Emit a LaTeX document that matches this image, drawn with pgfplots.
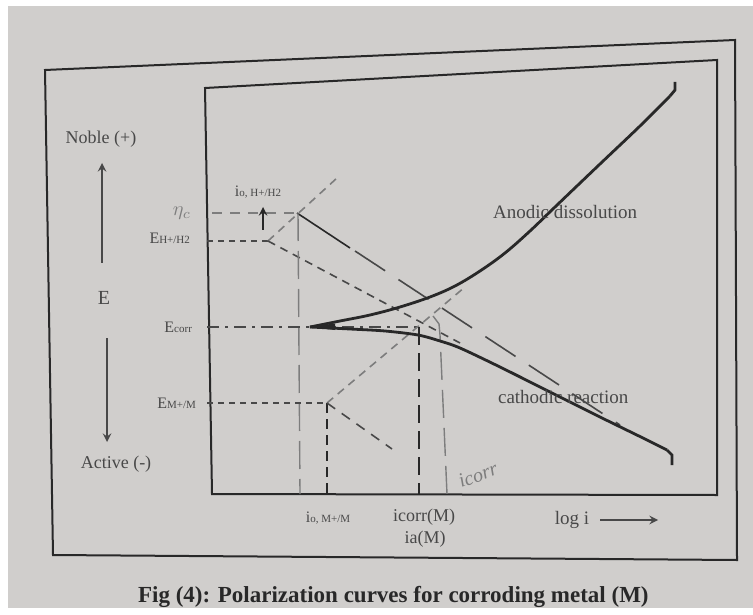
\documentclass[border=0pt]{standalone}
\usepackage{pgfplots}
\pgfplotsset{compat=1.18}
\usepackage{fontspec}
\setmainfont{Liberation Serif}
\definecolor{page}{RGB}{208,206,204}
\definecolor{ink}{RGB}{40,40,40}
\definecolor{prt}{RGB}{72,72,72}
\definecolor{pencil}{RGB}{125,125,125}
\newcommand{\sm}[1]{{\fontsize{5.5}{6}\selectfont #1}}

\begin{document}
\begin{tikzpicture}
\begin{axis}[
    x=0.5pt, y=0.5pt,
    xmin=0, xmax=753, ymin=0, ymax=608, y dir=reverse,
    hide axis, clip=false,
]
% paper
\addplot[draw=none, fill=white] coordinates {(0,0) (753,0) (753,608) (0,608)} --cycle;
\addplot[draw=none, fill=page] coordinates {(8,6) (753,6) (753,608) (8,608)} --cycle;

% frames
\addplot[ink, line width=1pt] coordinates {(45,70) (735,40) (737,560) (53,555)} --cycle;
\addplot[ink, line width=1pt] coordinates {(205,88) (717,60) (717,495) (212,494)} --cycle;

% hydrogen reaction
\addplot[prt, line width=0.8pt, dash pattern=on 3pt off 2.5pt] coordinates {(207,241) (268,241)};
\addplot[pencil, line width=0.8pt, dash pattern=on 5pt off 4pt] coordinates {(212,213) (297,213)};
\addplot[ink, line width=0.9pt, -stealth] coordinates {(263,230) (263,207)};
\addplot[pencil, line width=0.8pt, dash pattern=on 4pt off 3pt] coordinates {(268,241) (337,178)};
\addplot[prt, line width=0.8pt, dash pattern=on 4pt off 3pt] coordinates {(268,241) (460,343)};
\addplot[ink, line width=0.8pt] coordinates {(297,213) (350,248)};
\addplot[prt, line width=0.8pt, dash pattern=on 18pt off 8pt] coordinates {(355,251) (620,425)};
\addplot[pencil, line width=0.7pt, dash pattern=on 14pt off 5pt] coordinates {(298,213) (300,494)};

% metal reaction
\addplot[prt, line width=0.8pt, dash pattern=on 6pt off 3pt on 1.5pt off 3pt] coordinates {(207,327) (418,327)};
\addplot[prt, line width=0.8pt, dash pattern=on 3pt off 2.5pt] coordinates {(207,403) (327,403)};
\addplot[ink, line width=1.1pt, dash pattern=on 5pt off 3pt] coordinates {(327,403) (327,494)};
\addplot[pencil, line width=0.8pt, dash pattern=on 4pt off 3pt] coordinates {(327,403) (465,287)};
\addplot[prt, line width=0.8pt, dash pattern=on 5pt off 4pt] coordinates {(327,403) (392,449)};
\addplot[ink, line width=1.1pt, dash pattern=on 9pt off 4pt] coordinates {(419,327) (419,494)};
\addplot[pencil, line width=0.7pt, dash pattern=on 14pt off 5pt] coordinates {(433,316) (439,324) (440,335) (447,494)};

% polarization curves
\addplot[ink, line width=1.4pt, smooth, tension=0.6] coordinates {
    (310,327) (340,321) (370,315) (400,307) (430,297) (455,286) (480,271)
    (505,253) (530,231) (555,207) (600,164) (640,126) (670,96)};
\addplot[ink, line width=1.4pt] coordinates {(670,96) (675,90) (675,82)};
\addplot[ink, line width=1.4pt, smooth, tension=0.5] coordinates {
    (310,327) (350,329) (385,331) (418,335) (440,341) (460,348) (500,367)
    (550,392) (600,417) (645,439) (667,450)};
\addplot[ink, line width=1.4pt] coordinates {(667,450) (672,455) (672,465)};
\addplot[draw=none, fill=ink] coordinates {(308,327) (335,323.5) (335,330)} --cycle;

% left side
\node[prt, font=\fontsize{9}{10}\selectfont] at (axis cs:101,139) {Noble (+)};
\addplot[prt, line width=0.9pt, -stealth] coordinates {(102,263) (102,163)};
\node[prt, font=\fontsize{10}{11}\selectfont] at (axis cs:104,298) {E};
\addplot[prt, line width=0.9pt, -stealth] coordinates {(107,338) (107,442)};
\node[prt, font=\fontsize{9}{10}\selectfont] at (axis cs:116,464) {Active (-)};

% level labels
\node[prt, anchor=east, font=\fontsize{8}{9}\selectfont] at (axis cs:197,238) {E\sm{H+/H2}};
\node[prt, anchor=east, font=\fontsize{8}{9}\selectfont] at (axis cs:199,327) {E\sm{corr}};
\node[prt, anchor=east, font=\fontsize{8}{9}\selectfont] at (axis cs:203,403) {E\sm{M+/M}};
\node[pencil, font=\fontsize{10}{11}\selectfont] at (axis cs:182,213) {$\eta_c$};
\node[prt, font=\fontsize{8}{9}\selectfont] at (axis cs:258,192) {i\sm{o,\ H+/H2}};

% bottom labels
\node[prt, font=\fontsize{8}{9}\selectfont] at (axis cs:328,518) {i\sm{o,\ M+/M}};
\node[prt, font=\fontsize{9}{10}\selectfont] at (axis cs:424,517) {icorr(M)};
\node[prt, font=\fontsize{9}{10}\selectfont] at (axis cs:425,539) {ia(M)};
\node[prt, font=\fontsize{9.5}{10}\selectfont] at (axis cs:572,520) {log i};
\addplot[prt, line width=0.9pt, -stealth] coordinates {(600,520) (658,520)};

% curve labels
\node[prt, anchor=west, font=\fontsize{9.5}{10}\selectfont] at (axis cs:486,212) {Anodic dissolution};
\node[prt, anchor=west, font=\fontsize{9.5}{10}\selectfont] at (axis cs:491,397) {cathodic reaction};
\node[pencil, rotate=20, font=\itshape\fontsize{10}{11}\selectfont] at (axis cs:478,475) {icorr};

% caption
\node[ink, anchor=west, font=\bfseries\fontsize{11.5}{13}\selectfont] at (axis cs:131,597) {Fig (4): Polarization curves for corroding metal (M)};
\end{axis}
\end{tikzpicture}
\end{document}
